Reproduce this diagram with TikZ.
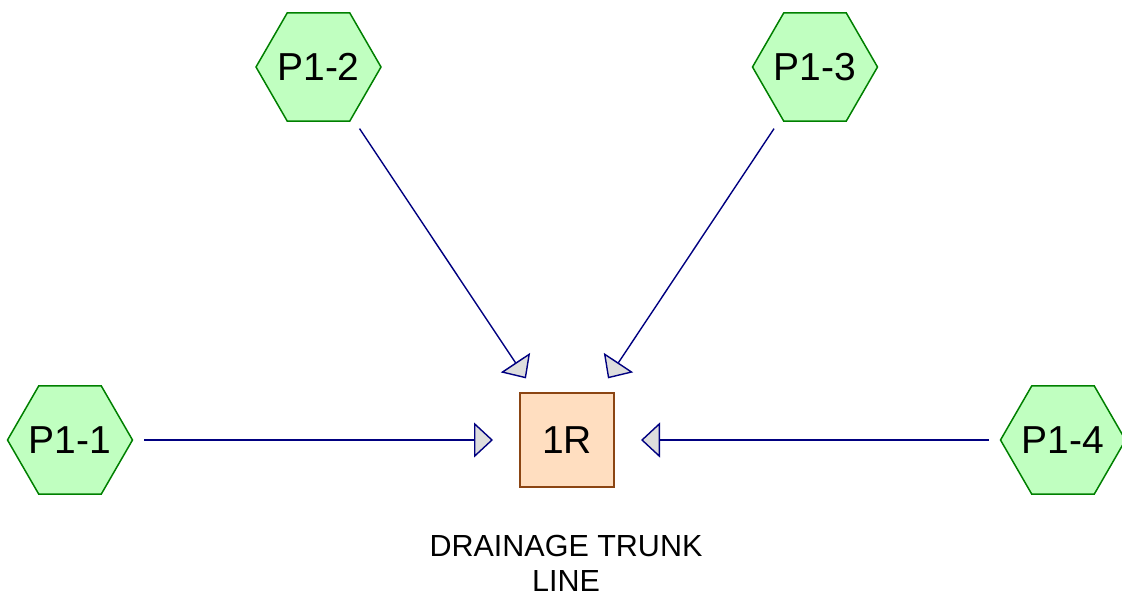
\documentclass[tikz,border=0pt]{standalone}
\usepackage{fontspec}
\setmainfont{Liberation Sans}
\usetikzlibrary{shapes.geometric,arrows.meta}
\definecolor{hexfill}{RGB}{192,255,192}
\definecolor{hexdraw}{RGB}{0,128,0}
\definecolor{boxfill}{RGB}{255,222,192}
\definecolor{boxdraw}{RGB}{139,69,19}
\definecolor{linkcol}{RGB}{0,0,128}
\definecolor{tipfill}{RGB}{221,221,221}
\newcommand{\zw}[1]{\makebox[0pt]{#1}}
\tikzset{
  hexnode/.style={regular polygon, regular polygon sides=6, minimum size=125pt, inner sep=0pt,
    fill=hexfill, draw=hexdraw, line width=1.5pt, font=\fontsize{39}{46}\selectfont},
  tank/.style={rectangle, minimum size=94pt, inner sep=0pt, fill=boxfill, draw=boxdraw,
    line width=1.4pt, font=\fontsize{39}{46}\selectfont},
  link/.style={draw=linkcol, line width=1.4pt, shorten <=74pt, shorten >=74pt,
    -{Triangle[length=19pt, width=35pt, fill=tipfill]}},
  caption/.style={align=center, inner sep=0pt, font=\fontsize{30.5}{35}\selectfont}
}
\begin{document}
\begin{tikzpicture}[x=1pt,y=-1pt]
\useasboundingbox (0,0) rectangle (1122,598);
\node[tank] (r) at (567,440) {1R};
\node[hexnode] (p1) at (70,440) {\zw{P1-1}};
\node[hexnode] (p2) at (318.5,67) {\zw{P1-2}};
\node[hexnode] (p3) at (815,67) {\zw{P1-3}};
\node[hexnode] (p4) at (1063,440) {\zw{P1-4}};
\node[caption] (cap) at (566,563) {DRAINAGE TRUNK\\LINE};
\draw[link] (p1.center) -- (r.center);
\draw[link] (p2.center) -- (r.center);
\draw[link] (p3.center) -- (r.center);
\draw[link] (p4.center) -- (r.center);
\end{tikzpicture}
\end{document}
